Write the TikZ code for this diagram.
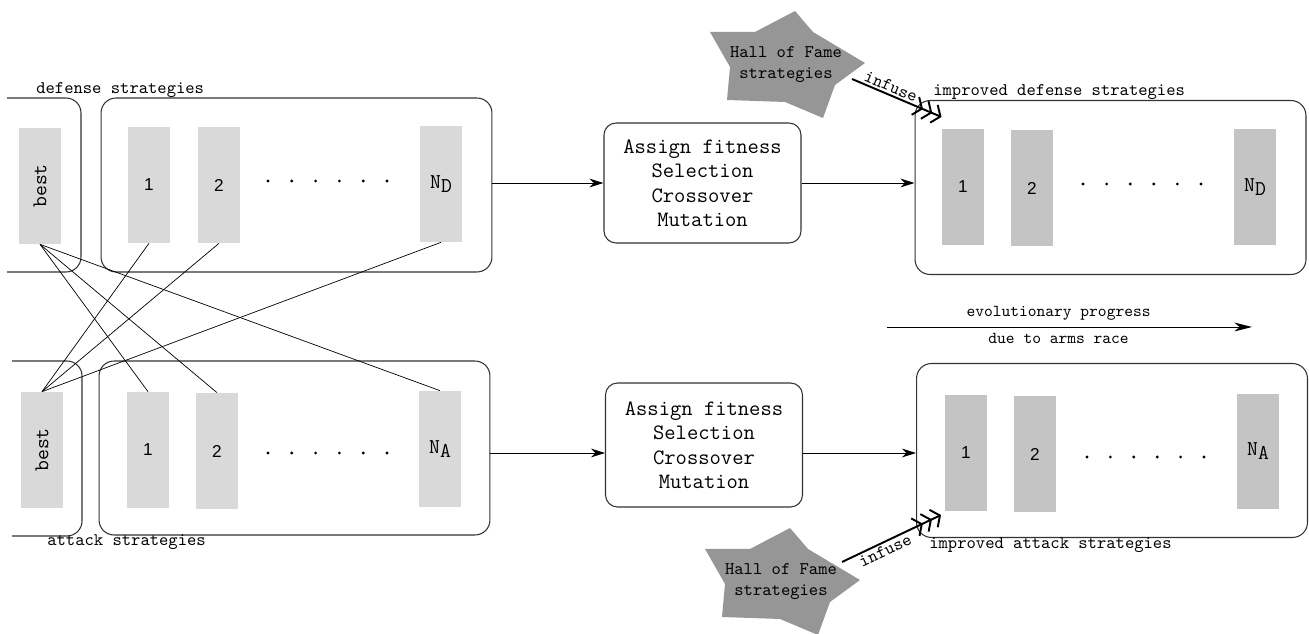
\documentclass[tikz,border=0pt]{standalone}
\usepackage{fontspec}
\setsansfont{Liberation Sans}
\usetikzlibrary{arrows.meta}

\definecolor{poolgray}{HTML}{D9D9D9}
\definecolor{newgray}{HTML}{C4C4C4}
\definecolor{stargray}{HTML}{969696}

\begin{document}
\begin{tikzpicture}[x=0.02cm, y=-0.02cm,
  font=\ttfamily\fontsize{10.1}{12}\selectfont,
  strat/.style={fill=poolgray, minimum width=0.84cm, minimum height=2.32cm, inner sep=0pt, font=\ttfamily\fontsize{12}{13}\selectfont},
  newstrat/.style={strat, fill=newgray},
  num/.style={font=\sffamily\fontsize{9.8}{11}\selectfont},
  poollabel/.style={anchor=base west, inner sep=0pt},
  pool/.style={draw=black!80, line width=0.6pt, rounded corners=0.3cm, minimum width=7.82cm, minimum height=3.48cm},
  ops/.style={draw=black!80, line width=0.6pt, rounded corners=0.24cm, minimum width=3.94cm, minimum height=2.4cm, align=center, font=\ttfamily\fontsize{12.5}{13.9}\selectfont},
  flow/.style={line width=0.5pt, -{Stealth[length=8pt, width=5pt, inset=2.5pt]}},
  cross/.style={line width=0.4pt},
  infuse/.style={line width=1.1pt, -{Straight Barb[length=4pt,width=11pt,sep=0.5pt] Straight Barb[length=4pt,width=11pt,sep=0.5pt] Straight Barb[length=4pt,width=11pt]}},
  hof/.pic={\fill[stargray] (9,-54) -- (27,-33) -- (79,-2) -- (49,20) -- (37,53) -- (-1,37) -- (-59,35) -- (-56,2) -- (-76,-33) -- (-31,-33) -- cycle;}
]
\useasboundingbox (0,0) rectangle (1309,634);

% defense population
\draw[line width=0.6pt, draw=black!80, rounded corners=0.3cm] (7,98) -- (81,98) -- (81,272) -- (7,272);
\node[strat] (bestD) at (40,186) {\rotatebox{90}{best}};
\node[pool] (popD) at (296.5,185) {};
\node[strat, num] (d1) at (149,185) {1};
\node[strat, num] (d2) at (219,185) {2};
\node[strat] (dN) at (441,184) {N\raisebox{-0.45ex}{D}};
\foreach \i in {0,...,5} \fill (268+\i*23.8,181) circle (0.9pt);
\node[poollabel] (labD) at (36,94) {defense strategies};

% attack population
\draw[line width=0.6pt, draw=black!80, rounded corners=0.3cm] (12,361) -- (82,361) -- (82,536) -- (12,536);
\node[strat] (bestA) at (42,450) {\rotatebox{90}{best}};
\node[pool] (popA) at (294.5,448) {};
\node[strat, num] (a1) at (148,450) {1};
\node[strat, num] (a2) at (217,451) {2};
\node[strat] (aN) at (440,449) {N\raisebox{-0.45ex}{A}};
\foreach \i in {0,...,5} \fill (268+\i*23.8,453) circle (0.9pt);
\node[poollabel] (labA) at (47,546) {attack strategies};

% best individuals play against the other population
\draw[cross] (bestD.south) -- (a1.north);
\draw[cross] (bestD.south) -- (a2.north);
\draw[cross] (bestD.south) -- (aN.north);
\draw[cross] (bestA.north) -- (d1.south);
\draw[cross] (bestA.north) -- (d2.south);
\draw[cross] (bestA.north) -- (dN.south);

% genetic operators
\node[ops] (opsD) at (702.5,183) {Assign fitness\\Selection\\Crossover\\Mutation};
\node[ops, minimum height=2.48cm] (opsA) at (704,445) {Assign fitness\\Selection\\Crossover\\Mutation};

% improved populations
\node[pool] (impD) at (1110.5,187.5) {};
\node[newstrat, num] (i1) at (963,187) {1};
\node[newstrat, num] (i2) at (1032,188) {2};
\node[newstrat] (iN) at (1255,187) {N\raisebox{-0.45ex}{D}};
\foreach \i in {0,...,5} \fill (1083+\i*23.6,184) circle (0.9pt);
\node[poollabel] (labID) at (933,96) {improved defense strategies};

\node[pool] (impA) at (1112,450.5) {};
\node[newstrat, num] (j1) at (966,453) {1};
\node[newstrat, num] (j2) at (1035,454) {2};
\node[newstrat] (jN) at (1258,451.5) {N\raisebox{-0.45ex}{A}};
\foreach \i in {0,...,5} \fill (1087+\i*23.4,457) circle (0.9pt);
\node[poollabel] (labIA) at (929,549) {improved attack strategies};

% flow
\coordinate (rowD) at (0,183);
\coordinate (rowA) at (0,453);
\draw[flow] (popD.east |- rowD) -- (opsD.west |- rowD);
\draw[flow] (opsD.east |- rowD) -- (impD.west |- rowD);
\draw[flow] (popA.east |- rowA) -- (opsA.west |- rowA);
\draw[flow] (opsA.east |- rowA) -- (impA.west |- rowA);

% hall of fame
\pic at (786,65) {hof};
\node[align=center] (hofD) at (786,65) {Hall of Fame\\strategies};
\pic at (781,582) {hof};
\node[align=center] (hofA) at (781,582) {Hall of Fame\\strategies};

\coordinate (infDa) at ([shift={(66,14)}]hofD.center);
\coordinate (infDb) at ([shift={(27,17)}]impD.north west);
\draw[infuse] (infDa) -- node[pos=0.4, above, sloped, inner sep=1pt] {infuse} (infDb);
\coordinate (infAa) at ([shift={(61,-20)}]hofA.center);
\coordinate (infAb) at ([shift={(25,-23)}]impA.south west);
\draw[infuse] (infAa) -- node[pos=0.4, below, sloped, inner sep=1pt] {infuse} (infAb);

% arms race
\coordinate (progS) at (887,327);
\coordinate (progE) at (1252,327);
\draw[line width=0.5pt, -{Stealth[length=10pt, width=5pt, inset=3pt]}] (progS) -- node[pos=0.47, above, font=\ttfamily\fontsize{9.5}{11}\selectfont] (progT) {evolutionary progress} node[pos=0.47, below, font=\ttfamily\fontsize{9.5}{11}\selectfont] (progB) {due to arms race} (progE);
\end{tikzpicture}
\end{document}
